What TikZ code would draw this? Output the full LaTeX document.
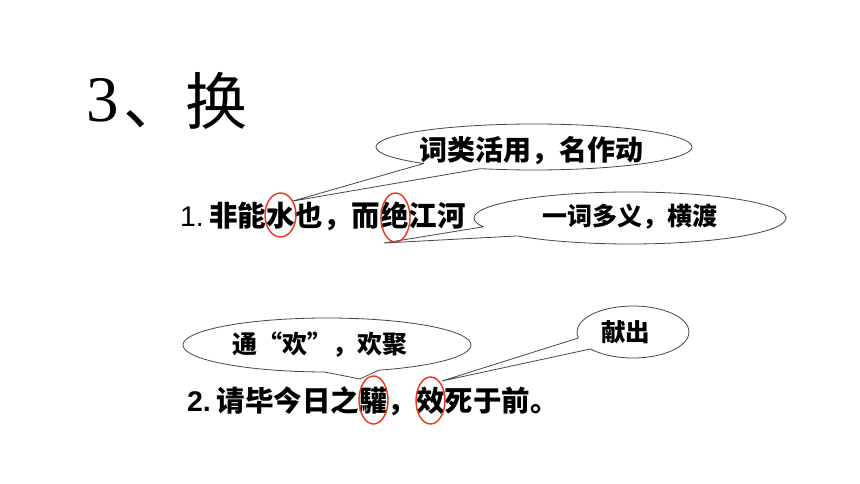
\documentclass[tikz,border=0pt]{standalone}
\usepackage{fontspec}
\setmainfont{Liberation Sans}
\newfontfamily\cjk{Noto Sans CJK SC}
\newfontfamily\serifnum{Liberation Serif}
\definecolor{ringred}{RGB}{236,52,22}
\definecolor{bubbleline}{RGB}{70,70,70}
\begin{document}
\begin{tikzpicture}[x=1pt,y=-1pt,
  bubble/.style={draw=bubbleline, line width=0.8pt, fill=white, line join=round},
  redring/.style={draw=ringred, line width=1.4pt},
  txt/.style={inner sep=0pt, outer sep=0pt, text=black}]
\useasboundingbox (0,0) rectangle (860,484);
\fill[white] (0,0) rectangle (860,484);

% title
\node[txt, anchor=base west, font=\serifnum\fontsize{65}{70}\selectfont] (num) at (86,122) {3};
\node[txt, anchor=west, font=\cjk\fontsize{62}{66}\selectfont] (title) at (123,101) {、换};

% callout bubbles
\coordinate (tip1) at (293,201);
\coordinate (tip2) at (384,243);
\coordinate (tip3) at (360,379);
\coordinate (tip4) at (442,381);
\draw[bubble] (534,147) ++(134.2:158 and 23)
  arc[start angle=134.2, end angle=469.7, x radius=158, y radius=23] -- (tip1) -- cycle;
\draw[bubble] (630,218) ++(160.2:156 and 26)
  arc[start angle=160.2, end angle=496.3, x radius=156, y radius=26] -- (tip2) -- cycle;
\draw[bubble] (327,345) ++(91:144 and 27)
  arc[start angle=91, end angle=429, x radius=144, y radius=27] -- (tip3) -- cycle;
\draw[bubble] (633,332) ++(166.8:56 and 26)
  arc[start angle=166.8, end angle=499.3, x radius=56, y radius=26] -- (tip4) -- cycle;

% bubble texts
\node[txt, font=\cjk\bfseries\fontsize{28}{30}\selectfont] (b1) at (531,151) {词类活用，名作动};
\node[txt, font=\cjk\bfseries\fontsize{25}{27}\selectfont] (b2) at (630,216.5) {一词多义，横渡};
\node[txt, font=\cjk\bfseries\fontsize{25}{27}\selectfont] (b3) at (319.5,344.5) {通\makebox[1em][r]{“}欢\makebox[1em][l]{”}，欢聚};
\node[txt, font=\cjk\bfseries\fontsize{24.5}{27}\selectfont] (b4) at (625.5,332.5) {献出};

% sentences
\node[txt, anchor=west, font=\fontsize{28.5}{30}\selectfont] (line1) at (180,216)
  {\makebox[29.25pt][l]{1.}{\cjk\bfseries 非能水也，而绝江河}};
\node[txt, anchor=west, font=\fontsize{28.5}{30}\selectfont] (line2) at (187,401.5)
  {\makebox[29.75pt][l]{\bfseries 2.}{\cjk\bfseries 请毕今日之驩，效死于前。}};

% red rings
\draw[redring] (280.5,215) ellipse [x radius=15.5, y radius=22];
\draw[redring] (395.5,217.5) ellipse [x radius=14.5, y radius=24.5];
\draw[redring] (373.5,400) ellipse [x radius=14.5, y radius=24];
\draw[redring] (430.5,400.5) ellipse [x radius=14.5, y radius=23.5];
\end{tikzpicture}
\end{document}
